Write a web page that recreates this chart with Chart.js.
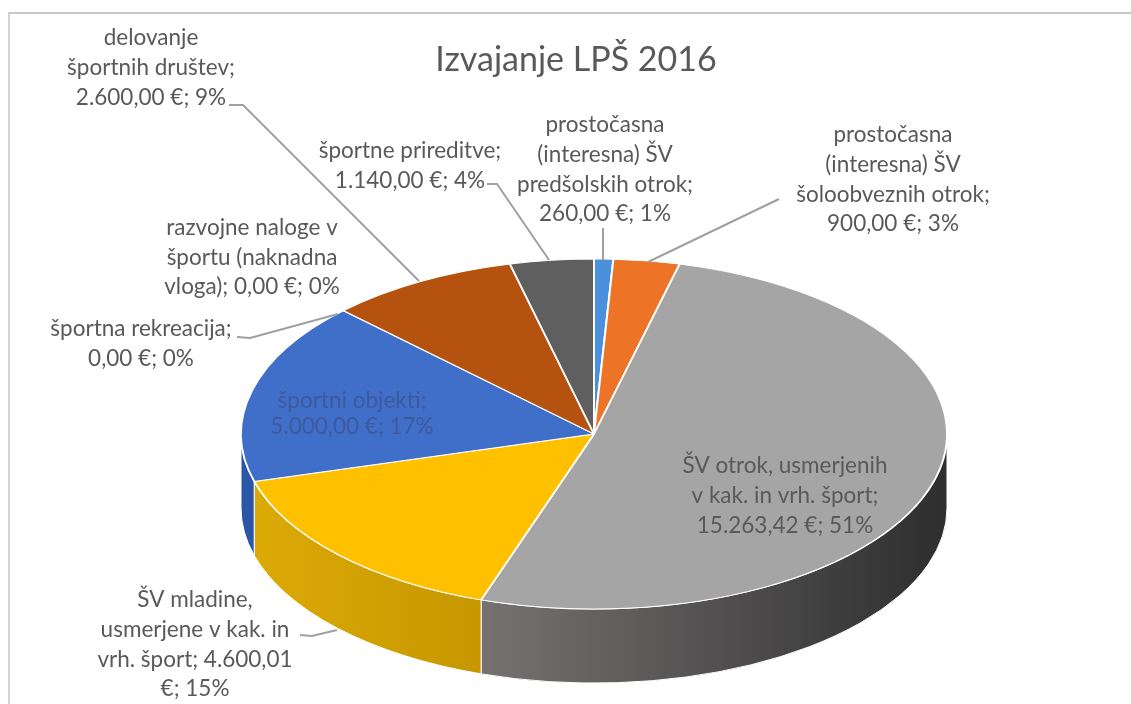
<!DOCTYPE html>
<html>
<head>
<meta charset="utf-8">
<title>Izvajanje LPŠ 2016</title>
<script src="https://cdn.jsdelivr.net/npm/chart.js@4/dist/chart.umd.min.js"></script>
<style>
    html, body { margin: 0; padding: 0; background: #fff; }
    #wrap { position: relative; width: 1131px; height: 704px; overflow: hidden; }
    #frame { position: absolute; left: 8px; top: 12px; right: 0; bottom: 0; border-top: 2px solid #c8c8c8; border-left: 2px solid #d4d4d4; }
    canvas { position: absolute; left: 0; top: 0; }
</style>
</head>
<body>
<div id="wrap">
    <div id="frame"></div>
    <canvas id="pie" width="1131" height="704"></canvas>
</div>
<script>
var categories = [
    'prostočasna (interesna) ŠV predšolskih otrok',
    'prostočasna (interesna) ŠV šoloobveznih otrok',
    'ŠV otrok, usmerjenih v kak. in vrh. šport',
    'ŠV mladine, usmerjene v kak. in vrh. šport',
    'športni objekti',
    'športna rekreacija',
    'razvojne naloge v športu (naknadna vloga)',
    'delovanje športnih društev',
    'športne prireditve'
];
var amounts = [260, 900, 15263.42, 4600.01, 5000, 0, 0, 2600, 1140];
var topColors = ['#4a90dc', '#ed7426', '#a5a5a5', '#ffc000', '#3f6fc9', '#70ad47', '#255e91', '#b5520f', '#5f5f5f'];
var wallLeft = ['#3a74b0', '#be5d1e', '#767272', '#dcaa06', '#2a55a8', '#5a8a39', '#1e4b74', '#944309', '#4c4c4c'];
var wallRight = ['#3a74b0', '#be5d1e', '#2e2e2e', '#c69700', '#2a55a8', '#5a8a39', '#1e4b74', '#944309', '#4c4c4c'];

var labelLines = [
    ['prostočasna', '(interesna) ŠV', 'predšolskih otrok;', '260,00 €; 1%'],
    ['prostočasna', '(interesna) ŠV', 'šoloobveznih otrok;', '900,00 €; 3%'],
    ['ŠV otrok, usmerjenih', 'v kak. in vrh. šport;', '15.263,42 €; 51%'],
    ['ŠV mladine,', 'usmerjene v kak. in', 'vrh. šport; 4.600,01', '€; 15%'],
    ['športni objekti;', '5.000,00 €; 17%'],
    ['športna rekreacija;', '0,00 €; 0%'],
    ['razvojne naloge v', 'športu (naknadna', 'vloga); 0,00 €; 0%'],
    ['delovanje', 'športnih društev;', '2.600,00 €; 9%'],
    ['športne prireditve;', '1.140,00 €; 4%']
];
var labelX = [605, 893, 785, 195, 352, 141, 252, 151, 410];
var labelY = [125, 135, 466, 600, 401, 329, 228, 38, 151];
var labelGap = [29.7, 29.7, 29.7, 29.7, 26, 29.7, 29.5, 29.7, 29.5];
var leaders = [
    [[603, 228], [603, 260]],
    [[779, 199], [648, 262]],
    [],
    [[300, 635], [312, 636], [337, 630]],
    [],
    [[237, 337], [250, 338], [338, 314]],
    [],
    [[229, 105], [243, 105], [419, 281]],
    [[487, 184], [497, 184], [549, 260]]
];

var CX = 594, CY = 434, RY_K = 0.496, DEPTH = 74;

var pie3d = {
    id: 'pie3d',
    beforeDatasetsDraw: function (chart) {
        var ctx = chart.ctx;
        var arcs = chart.getDatasetMeta(0).data;
        arcs.forEach(function (arc, i) {
            var p = arc.getProps(['startAngle', 'endAngle', 'outerRadius']);
            var a0 = Math.max(p.startAngle, 0);
            var a1 = Math.min(p.endAngle, Math.PI);
            if (a1 <= a0) return;
            var rx = p.outerRadius, ry = rx * RY_K;
            var x0 = CX + rx * Math.cos(a0), x1 = CX + rx * Math.cos(a1);
            var g = ctx.createLinearGradient(x1, 0, x0, 0);
            g.addColorStop(0, wallLeft[i]);
            g.addColorStop(1, wallRight[i]);
            ctx.beginPath();
            ctx.ellipse(CX, CY, rx, ry, 0, a0, a1);
            ctx.ellipse(CX, CY + DEPTH, rx, ry, 0, a1, a0, true);
            ctx.closePath();
            ctx.fillStyle = g;
            ctx.fill();
            ctx.strokeStyle = '#ffffff';
            ctx.lineWidth = 1;
            ctx.stroke();
        });
        var first = arcs[0];
        ctx.save();
        ctx.translate(CX, CY);
        ctx.scale(1, RY_K);
        ctx.translate(-first.x, -first.y);
    },
    afterDatasetsDraw: function (chart) {
        var ctx = chart.ctx;
        ctx.restore();

        ctx.strokeStyle = '#a0a0a0';
        ctx.lineWidth = 2;
        leaders.forEach(function (pts) {
            if (!pts.length) return;
            ctx.beginPath();
            pts.forEach(function (pt, j) {
                if (j === 0) ctx.moveTo(pt[0], pt[1]);
                else ctx.lineTo(pt[0], pt[1]);
            });
            ctx.stroke();
        });

        ctx.font = '22.5px Lato';
        ctx.textAlign = 'center';
        ctx.textBaseline = 'middle';
        labelLines.forEach(function (lines, i) {
            ctx.fillStyle = i === 4 ? '#3f5a9c' : '#595959';
            lines.forEach(function (line, j) {
                ctx.fillText(line, labelX[i], labelY[i] + j * labelGap[i]);
            });
        });
    }
};

document.addEventListener('DOMContentLoaded', function () {
    new Chart(document.getElementById('pie'), {
        type: 'pie',
        data: {
            labels: categories,
            datasets: [
                {
                    data: amounts,
                    backgroundColor: topColors,
                    borderColor: '#ffffff',
                    borderWidth: 2
                }
            ]
        },
        options: {
            responsive: false,
            animation: false,
            radius: 353,
            layout: { padding: { left: 21, top: 0 } },
            plugins: {
                legend: { display: false },
                tooltip: { enabled: false },
                title: {
                    display: true,
                    text: 'Izvajanje LPŠ 2016',
                    color: '#595959',
                    font: { family: 'Lato', size: 34, weight: 'normal' },
                    padding: { top: 40, bottom: 10 }
                }
            }
        },
        plugins: [pie3d]
    });
});
</script>
</body>
</html>
